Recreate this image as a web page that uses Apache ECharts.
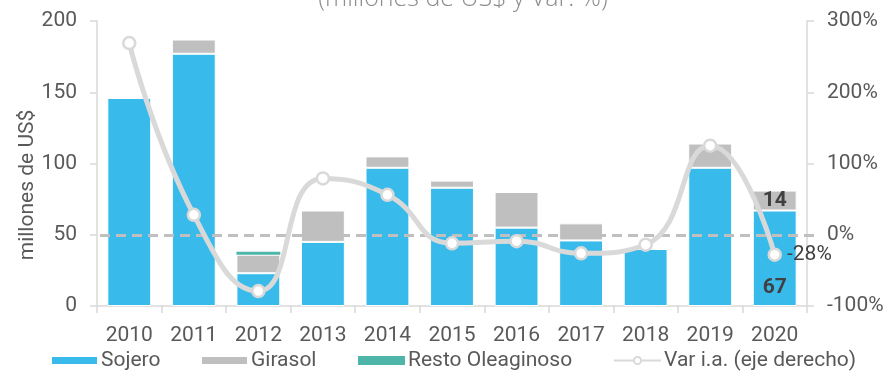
<!DOCTYPE html>
<html>
<head>
<meta charset="utf-8">
<script src="https://cdn.jsdelivr.net/npm/echarts@6/dist/echarts.min.js"></script>
<style>
  html, body { margin: 0; padding: 0; background: #fff; }
  #chart { width: 887px; height: 371px; }
</style>
</head>
<body>
<div id="chart"></div>
<script>
// Exportaciones del complejo oleaginoso por año (millones de US$) y variación interanual (%)
const years = ['2010', '2011', '2012', '2013', '2014', '2015', '2016', '2017', '2018', '2019', '2020'];
const sojero = [146, 177, 23, 45, 97, 83, 55, 46, 40, 97, 67];
const girasol = [0, 10, 13, 22, 8, 5, 25, 12, 0, 17, 14];
const resto = [0, 0, 2, 0, 0, 0, 0, 0, 0, 0, 0];
const varIA = [269, 28, -79, 79, 56, -12, -9, -26, -14, 125, -28];
const leftTicks = { min: 0, max: 200, step: 50 };
const rightTicks = { min: -100, max: 300, step: 100 };

const FONT = 'Roboto';
const TXT = '#595959';
const AXIS = '#d9d9d9';
const FS = 21;
const last = years.length - 1;

const chart = echarts.init(document.getElementById('chart'), null, { renderer: 'canvas' });

// one legend block per series so each entry sits at its own x position
const legendItem = (name, left, icon) => ({
  left: left,
  top: 345,
  itemWidth: 47,
  itemHeight: 9,
  textStyle: { color: TXT, fontSize: FS, fontFamily: FONT, padding: [0, 0, 0, -2] },
  data: [icon ? { name: name, icon: icon } : { name: name }]
});

chart.setOption({
  animation: false,
  textStyle: { fontFamily: FONT },
  graphic: [
    {
      type: 'text',
      x: 463,
      y: -14,
      style: {
        text: '(millones de US$ y Var. %)',
        font: '300 25px "Open Sans"',
        fill: '#8c8c8c',
        align: 'center'
      }
    },
    {
      type: 'text',
      x: 28,
      y: 185,
      rotation: Math.PI / 2,
      style: {
        text: 'millones de US$',
        font: FS + 'px ' + FONT,
        fill: TXT,
        align: 'center',
        verticalAlign: 'middle'
      }
    }
  ],
  legend: [
    legendItem('Sojero', 45, 'rect'),
    legendItem('Girasol', 195, 'rect'),
    legendItem('Resto Oleaginoso', 353, 'rect'),
    legendItem('Var i.a. (eje derecho)', 608)
  ],
  grid: { left: 97, right: 80, top: 21, bottom: 65, containLabel: false },
  xAxis: {
    type: 'category',
    data: years,
    axisLine: { lineStyle: { color: AXIS, width: 1.5 } },
    axisTick: { show: true, length: 7, lineStyle: { color: AXIS, width: 1.5 } },
    axisLabel: { color: TXT, fontSize: FS, margin: 19, fontFamily: FONT }
  },
  yAxis: [
    {
      type: 'value',
      min: leftTicks.min,
      max: leftTicks.max,
      interval: leftTicks.step,
      axisLine: { show: true, lineStyle: { color: AXIS, width: 1.5 } },
      axisTick: { show: true, length: 7, lineStyle: { color: AXIS, width: 1.5 } },
      splitLine: { show: false },
      axisLabel: { color: TXT, fontSize: FS, margin: 20, fontFamily: FONT }
    },
    {
      type: 'value',
      min: rightTicks.min,
      max: rightTicks.max,
      interval: rightTicks.step,
      axisLine: { show: true, lineStyle: { color: AXIS, width: 1.5 } },
      axisTick: { show: true, length: 7, lineStyle: { color: AXIS, width: 1.5 } },
      splitLine: { show: false },
      axisLabel: { color: TXT, fontSize: FS, margin: 20, fontFamily: FONT, formatter: '{value}%' }
    }
  ],
  series: [
    {
      name: 'Sojero',
      type: 'bar',
      stack: 'total',
      barWidth: '68%',
      itemStyle: { color: '#38bbeb', borderColor: '#fff', borderWidth: 1 },
      data: sojero.map((v, i) => i === last ? {
        value: v,
        label: { show: true, position: 'insideBottom', distance: 8, color: '#404040', fontSize: FS, fontWeight: 'bold', formatter: '{c}' }
      } : v)
    },
    {
      name: 'Girasol',
      type: 'bar',
      stack: 'total',
      itemStyle: { color: '#bfbfbf', borderColor: '#fff', borderWidth: 1 },
      data: girasol.map((v, i) => i === last ? {
        value: v,
        label: { show: true, position: 'inside', color: '#404040', fontSize: FS, fontWeight: 'bold', formatter: '{c}' }
      } : v)
    },
    {
      name: 'Resto Oleaginoso',
      type: 'bar',
      stack: 'total',
      itemStyle: { color: '#4db6a8' },
      data: resto
    },
    {
      name: 'Var i.a. (eje derecho)',
      type: 'line',
      yAxisIndex: 1,
      smooth: 0.5,
      symbol: 'circle',
      symbolSize: 12,
      z: 5,
      lineStyle: { color: '#d9d9d9', width: 5 },
      itemStyle: { color: '#fff', borderColor: '#d9d9d9', borderWidth: 2.5 },
      data: varIA.map((v, i) => i === last ? {
        value: v,
        label: { show: true, position: 'right', distance: 5, color: '#404040', fontSize: FS, formatter: '{c}%' }
      } : v),
      markLine: {
        silent: true,
        symbol: 'none',
        label: { show: false },
        lineStyle: { color: '#bfbfbf', type: [10, 6], width: 3 },
        data: [[{ xAxis: 0, yAxis: 0, x: 100 }, { yAxis: 0, x: 815 }]]
      }
    }
  ]
});
</script>
</body>
</html>
